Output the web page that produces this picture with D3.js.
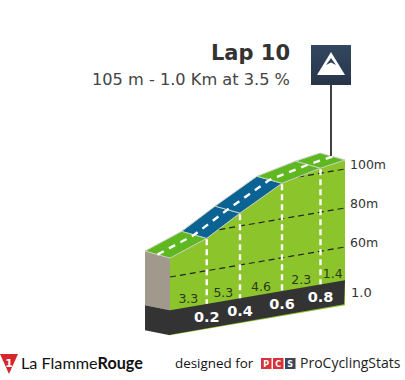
<!DOCTYPE html>
<html><head><meta charset="utf-8">
<script src="https://cdn.jsdelivr.net/npm/d3@7/dist/d3.min.js"></script>
<style>html,body{margin:0;padding:0;background:#fff}svg{display:block}</style>
</head><body><svg id="c" width="405" height="380"></svg>
<script>
const kmPos=[0,0.21,0.40,0.64,0.86,1.0];
const elev=[69.7,76.6,86.6,98.2,102.6,104.6];
const kmLabels=["0.2","0.4","0.6","0.8"];
const gradeLabels=["3.3","5.3","4.6","2.3","1.4"];
const segKinds=["g","b","b","g","g"];
const gridAlt=[60,80,100];
const title="Lap 10", subtitle="105 m - 1.0 Km at 3.5 %";

const svg=d3.select("#c");
const x=d3.scaleLinear().domain([0,1]).range([170,345]);
const yAlt=d3.scaleLinear().domain([60,100]).range([277,199]);
const shear=d3.scaleLinear().domain([0,1]).range([0,30]);
const baseAlt=43;
const Y=(km,alt)=>yAlt(alt)-shear(km);
const dx=-25,dy=-7;
const line=d3.line();
const colors={g:"#5fb820",b:"#0b6394",side:"#8cc42c",dark:"#333333",wall:"#a2998d",edge:"#c9cfc4"};

const pts=kmPos.map((k,i)=>[x(k),Y(k,elev[i])]);
svg.append("path").attr("d",line([...pts,[x(1),Y(1,baseAlt)+25],[x(0),Y(0,baseAlt)+25]])+"Z").attr("fill",colors.side);
svg.append("path").attr("d",line([[x(0),Y(0,baseAlt)],[x(1),Y(1,baseAlt)],[x(1)-1,Y(1,baseAlt)+24],[x(0),Y(0,baseAlt)+24.5]])+"Z").attr("fill",colors.dark);
const p0=pts[0], b0=Y(0,baseAlt);
svg.append("path").attr("d",line([[p0[0]+dx,p0[1]+dy],p0,[p0[0],b0],[p0[0]+dx,b0-5]])+"Z").attr("fill",colors.wall);
svg.append("path").attr("d",line([[p0[0]+dx,b0-5],[p0[0],b0],[p0[0],b0+25],[p0[0]+dx,b0+20]])+"Z").attr("fill",colors.dark);
gridAlt.forEach(a=>{
  const s=a===100?0.62:0;
  svg.append("line").attr("x1",x(s)).attr("x2",x(1)).attr("y1",Y(s,a)).attr("y2",Y(1,a))
   .attr("stroke","#222").attr("stroke-width",1.2).attr("stroke-dasharray","6 4");
});
segKinds.forEach((k,i)=>{
  const a=pts[i],b=pts[i+1];
  svg.append("path").attr("d",line([a,b,[b[0]+dx,b[1]+dy],[a[0]+dx,a[1]+dy]])+"Z")
    .attr("fill",colors[k]).attr("stroke",colors.edge).attr("stroke-width",1).attr("stroke-linejoin","round");
});
kmPos.slice(1,-1).forEach((k,i)=>{
  svg.append("line").attr("x1",x(k)).attr("x2",x(k)).attr("y1",pts[i+1][1]+1).attr("y2",Y(k,baseAlt))
   .attr("stroke","#fff").attr("stroke-width",2.4).attr("stroke-dasharray","6 4");
});
svg.append("path").attr("d",line(pts.map(p=>[p[0]+dx/2,p[1]+dy/2]))).attr("fill","none")
  .attr("stroke","#fff").attr("stroke-width",2.4).attr("stroke-dasharray","7 6");
svg.append("line").attr("x1",331).attr("x2",331).attr("y1",85).attr("y2",156).attr("stroke","#111").attr("stroke-width",1.6);
const grad=svg.append("defs").append("linearGradient").attr("id","ic").attr("x1",0).attr("x2",0).attr("y1",0).attr("y2",1);
grad.append("stop").attr("offset",0).attr("stop-color","#324860");
grad.append("stop").attr("offset",1).attr("stop-color","#27344a");
svg.append("rect").attr("x",311).attr("y",45).attr("width",40).attr("height",40).attr("fill","url(#ic)");
svg.append("path").attr("d",line([[331,52],[345,75],[317,75]])+"Z").attr("fill","#fff");
svg.append("path").attr("d",line([[331,58],[336,65],[331,62.5],[326,65]])+"Z").attr("fill","#2f445b");

const text=(t,tx,ty,o)=>svg.append("text").attr("x",tx).attr("y",ty).text(t)
  .attr("font-family",o.f||"'DejaVu Sans'").attr("font-size",o.s).attr("font-weight",o.w||400)
  .attr("fill",o.c||"#333").attr("text-anchor",o.a||"start");
text(title,290,60,{s:21,w:700,a:"end",c:"#333"});
text(subtitle,290,85,{s:16.2,a:"end",c:"#444"});
gridAlt.forEach(a=>text(a+"m",350,Y(1,a)-0.5,{s:12.5,c:"#333"}));
text("1.0",351,297,{s:13,c:"#333"});
gradeLabels.forEach((g,i)=>{
  const m=(kmPos[i]+kmPos[i+1])/2;
  text(g,x(m),Y(m,baseAlt)-4,{s:12.5,a:"middle",c:"#2d3a1a"});
});
kmLabels.forEach((l,i)=>{
  const k=kmPos[i+1];
  text(l,x(k),Y(k,baseAlt)+18,{s:14.5,w:700,a:"middle",c:"#fff"});
});
svg.append("path").attr("d",line([[0,354],[18,354],[9,374]])+"Z").attr("fill","#d4262c");
text("1",9,367,{s:11,w:700,a:"middle",c:"#fff"});
const lf=text("La Flamme",21,369,{s:16.2,f:"Lato",w:400,c:"#111"});
lf.append("tspan").attr("font-weight",700).text("Rouge");
text("designed for",175,368,{s:13.4,f:"'Open Sans'",c:"#111"});
[["P","#d6333a",261],["C","#d6333a",273],["S","#3a4658",285]].forEach(([l,c,px])=>{
  svg.append("rect").attr("x",px).attr("y",358).attr("width",10.5).attr("height",11).attr("fill",c);
  text(l,px+5.25,367,{s:8,w:700,a:"middle",c:"#fff"});
});
text("ProCyclingStats",300,368,{s:14,f:"'Open Sans'",c:"#222"});
</script></body></html>
